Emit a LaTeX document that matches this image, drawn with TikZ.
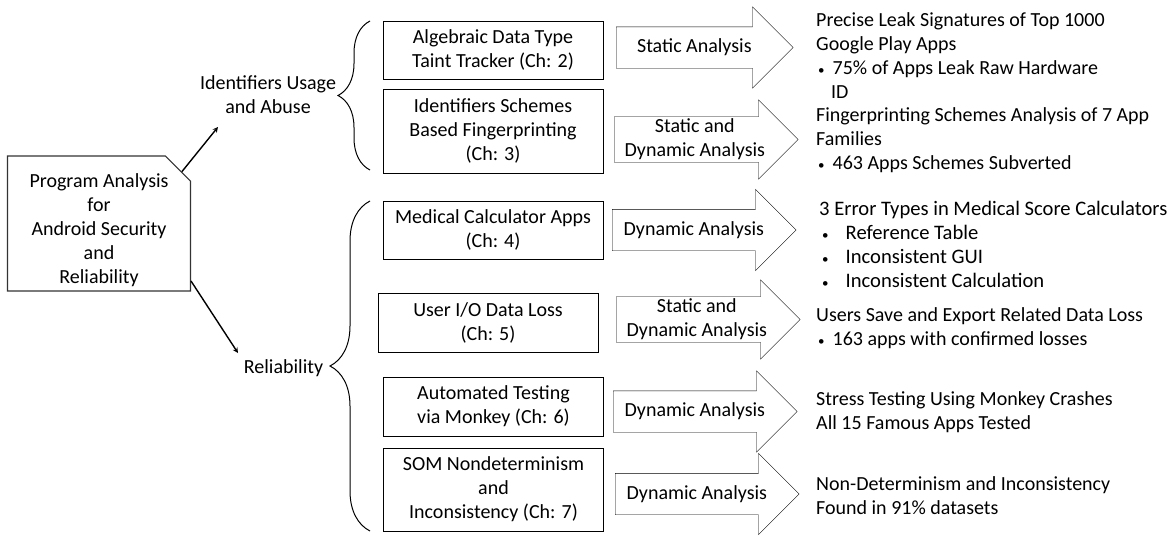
\documentclass[tikz,border=0pt]{standalone}
\usepackage{fontspec}
\setmainfont{Carlito}
\usetikzlibrary{shapes,arrows,calc,decorations.pathreplacing}
\tikzset{every picture/.style={>=stealth},
  chbox/.style={draw,line width=1pt,minimum width=220pt,inner sep=0pt,align=center},
  rootbox/.style={draw=black!80,line width=1.1pt,chamfered rectangle,chamfered rectangle corners=north east,chamfered rectangle xsep=22pt,minimum width=178pt,minimum height=135pt,inner sep=0pt,align=center},
  onearrow/.style={draw,fill=white,single arrow,single arrow head extend=20pt,text height=14pt,text depth=4pt,inner xsep=0pt,inner ysep=11.5pt,minimum height=184pt,anchor=tail},
  twoarrow/.style={draw,fill=white,single arrow,single arrow head extend=17pt,inner xsep=0pt,inner ysep=2pt,align=center,minimum height=184pt,anchor=tail},
  restext/.style={anchor=west,align=left,inner sep=0pt},
  curly/.style={decorate,decoration={brace,amplitude=#1},line width=1pt}}
\newcommand{\dfont}{\fontsize{20}{24}\selectfont}
\newcommand{\bul}[2]{\hspace*{#1}{\fontsize{13}{13}\selectfont\textbullet}\hspace{#2}}

\begin{document}
\begin{tikzpicture}[x=1pt,y=-1pt,every node/.style={font=\dfont}]
  \useasboundingbox (0,0) rectangle (1171,536);
  \node (10) [rootbox] at (99,223.5) {\rule{0pt}{28pt}Program Analysis\\for\\Android Security\\and\\Reliability};
  \node (21) [align=center] at (268,95) {Identifiers Usage\\and Abuse};
  \node (20) at (283.5,368) {Reliability};
  \coordinate (21a) at (218,127);
  \coordinate (20a) at (238,353);
  \draw [->, line width=1.4pt] (10.32) -- (21a);
  \draw [->, line width=1.4pt] (10.-32) -- (20a);
  \draw [curly=32pt] (370,170) -- (370,21);
  \draw [curly=40pt] (370,531) -- (370,201);
  \node (31) [chbox, minimum height=58pt] at (493,50) {Algebraic Data Type\\Taint Tracker (Ch: 2)};
  \node (32) [chbox, minimum height=84pt] at (493,131) {Identifiers Schemes\\Based Fingerprinting\\(Ch: 3)};
  \node (33) [chbox, minimum height=58pt] at (493,230) {Medical Calculator Apps\\(Ch: 4)};
  \node (34) [chbox, minimum height=59pt] at (488,322.5) {User I/O Data Loss\\(Ch: 5)};
  \node (35) [chbox, minimum height=59pt] at (493.5,406.5) {Automated Testing\\via Monkey (Ch: 6)};
  \node (36) [chbox, minimum height=83pt] at (493.5,489.5) {SOM Nondeterminism\\and\\Inconsistency (Ch: 7)};
  \node (41) [onearrow, minimum height=177pt] at (616,47.5) {Static Analysis};
  \node (42) [twoarrow] at (614,139.5) {Static and\\Dynamic Analysis};
  \node (43) [onearrow] at (612,230) {Dynamic Analysis};
  \node (44) [twoarrow] at (616,319.5) {Static and\\Dynamic Analysis};
  \node (45) [onearrow] at (613,411.5) {Dynamic Analysis};
  \node (46) [onearrow] at (615,494) {Dynamic Analysis};
  \node (51) [restext] at (816,56) {Precise Leak Signatures of Top 1000\\Google Play Apps\\\bul{2pt}{8pt}75\% of Apps Leak Raw Hardware\\\hspace*{15pt}ID};
  \node (52) [restext] at (816,140) {Fingerprinting Schemes Analysis of 7 App\\Families\\\bul{2pt}{8pt}463 Apps Schemes Subverted};
  \node (53) [restext, font=\fontsize{20.6}{24}\selectfont] at (816,244) {\hspace*{3pt}3 Error Types in Medical Score Calculators\\\bul{6pt}{17pt}Reference Table\\\bul{6pt}{17pt}Inconsistent GUI\\\bul{6pt}{17pt}Inconsistent Calculation};
  \node (54) [restext] at (816,328) {Users Save and Export Related Data Loss\\\bul{2pt}{8pt}163 apps with confirmed losses};
  \node (55) [restext] at (816,412) {Stress Testing Using Monkey Crashes\\All 15 Famous Apps Tested};
  \node (56) [restext] at (816,496) {Non-Determinism and Inconsistency\\Found in 91\% datasets};
\end{tikzpicture}
\end{document}
